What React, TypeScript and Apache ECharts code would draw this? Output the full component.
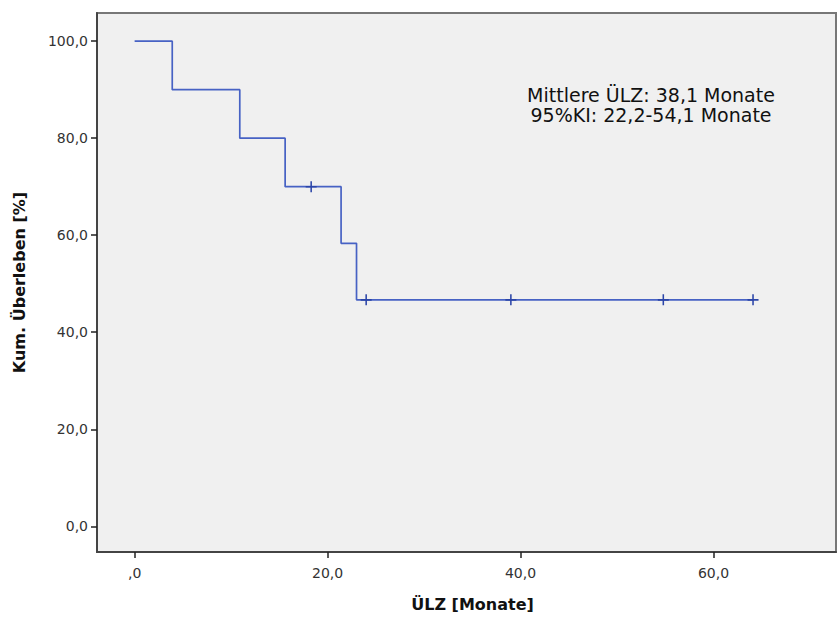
import React, { useEffect, useRef } from "react";
import * as echarts from "echarts";

// Kaplan-Meier data (months, survival %)
const startTime = 0;
const startSurvival = 100;
const eventTimes = [3.9, 10.9, 15.6, 21.4, 23.0];
const eventSurvival = [90, 80, 70, 58.33, 46.67];
const lastFollowUp = 64.1;
const censorTimes = [18.3, 24.0, 39.0, 54.8, 64.1];
const censorSurvival = [70, 46.67, 46.67, 46.67, 46.67];

const xTicks = [0, 20, 40, 60];
const yTicks = [0, 20, 40, 60, 80, 100];
const annotationLines = ["Mittlere ÜLZ: 38,1 Monate", "95%KI: 22,2-54,1 Monate"];

const fmt = (v: number) => v.toFixed(1).replace(".", ",");
const fmtX = (v: number) => (v === 0 ? ",0" : v.toFixed(1).replace(".", ","));

function buildSteps(): number[][] {
  const pts: number[][] = [[startTime, startSurvival]];
  let cur = startSurvival;
  eventTimes.forEach((t, i) => {
    pts.push([t, cur]);
    cur = eventSurvival[i];
    pts.push([t, cur]);
  });
  pts.push([lastFollowUp, cur]);
  return pts;
}

const FONT = "'DejaVu Sans', Verdana, sans-serif";

export default function App() {
  const ref = useRef<HTMLDivElement>(null);
  useEffect(() => {
    if (!ref.current) return;
    const chart = echarts.init(ref.current, null, { renderer: "svg" });
    const plus = "path://M4.3,0H5.7V4.3H10V5.7H5.7V10H4.3V5.7H0V4.3H4.3Z";
    chart.setOption({
      animation: false,
      backgroundColor: "#ffffff",
      grid: {
        left: 97,
        top: 13,
        right: 1,
        bottom: 64,
        show: true,
        backgroundColor: "#f0f0f0",
        borderColor: "#777777",
        borderWidth: 2,
      },
      xAxis: {
        type: "value",
        min: -3.9,
        max: 72.7,
        name: "ÜLZ [Monate]",
        nameLocation: "middle",
        nameGap: 44,
        nameTextStyle: { fontFamily: FONT, fontSize: 16, fontWeight: "bold", color: "#111", padding: [0, 0, 0, 12] },
        splitLine: { show: false },
        axisLine: { show: true, onZero: false, lineStyle: { color: "#444", width: 2 } },
        axisTick: {
          show: true,
          length: 6,
          customValues: xTicks,
          lineStyle: { color: "#222", width: 1.5 },
        },
        axisLabel: {
          customValues: xTicks,
          formatter: (v: number) => fmtX(v),
          fontFamily: FONT,
          fontSize: 14,
          color: "#333",
          margin: 14,
        },
      },
      yAxis: {
        type: "value",
        min: -5.3,
        max: 105.8,
        name: "Kum. Überleben [%]",
        nameLocation: "middle",
        nameGap: 70,
        nameTextStyle: { fontFamily: FONT, fontSize: 16, fontWeight: "bold", color: "#111" },
        splitLine: { show: false },
        axisLine: { show: true, onZero: false, lineStyle: { color: "#444", width: 2 } },
        axisTick: {
          show: true,
          length: 6,
          customValues: yTicks,
          lineStyle: { color: "#222", width: 1.5 },
        },
        axisLabel: {
          customValues: yTicks,
          formatter: (v: number) => fmt(v),
          fontFamily: FONT,
          fontSize: 14,
          color: "#333",
          margin: 9,
        },
      },
      series: [
        {
          type: "line",
          data: buildSteps(),
          showSymbol: false,
          symbol: "none",
          lineStyle: { color: "#4762c4", width: 1.7 },
          z: 2,
        },
        {
          type: "scatter",
          data: censorTimes.map((t, i) => [t, censorSurvival[i]]),
          symbol: plus,
          symbolSize: 11,
          itemStyle: { color: "#2b45a8", opacity: 1 },
          z: 3,
        },
      ],
      graphic: [
        {
          type: "text",
          x: 651,
          y: 85,
          style: {
            text: annotationLines.join("\n"),
            font: `19px ${FONT}`,
            fill: "#111",
            align: "center",
            verticalAlign: "top",
            lineHeight: 20,
          },
        },
      ],
    });
    return () => chart.dispose();
  }, []);
  return (
    <div
      ref={ref}
      style={{ position: "fixed", left: 0, top: 0, width: 837, height: 617 }}
    />
  );
}
